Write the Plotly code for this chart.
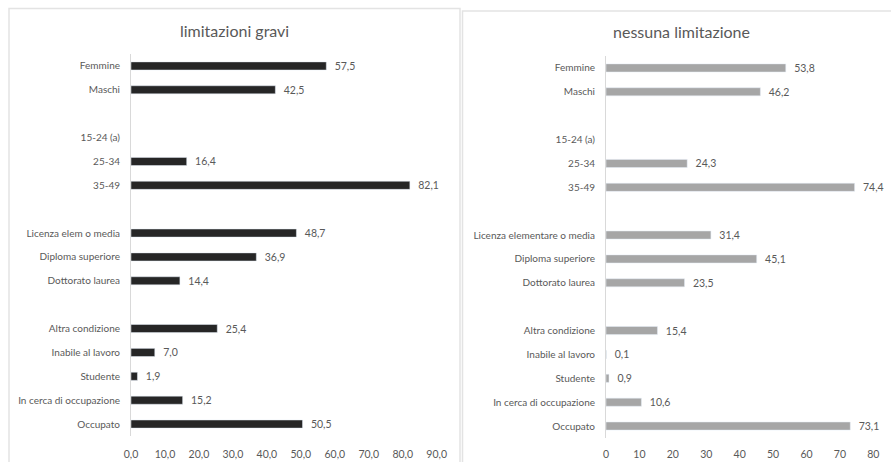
import plotly.graph_objects as go

W, H = 891, 462

categories = ["Femmine", "Maschi", " ", "15-24 (a)", "25-34", "35-49", "  ",
              "Licenza elem o media", "Diploma superiore", "Dottorato laurea", "   ",
              "Altra condizione", "Inabile al lavoro", "Studente",
              "In cerca di occupazione", "Occupato"]
categories_right = ["Femmine", "Maschi", " ", "15-24 (a)", "25-34", "35-49", "  ",
                    "Licenza elementare o media", "Diploma superiore", "Dottorato laurea", "   ",
                    "Altra condizione", "Inabile al lavoro", "Studente",
                    "In cerca di occupazione", "Occupato"]
gravi = [57.5, 42.5, None, None, 16.4, 82.1, None, 48.7, 36.9, 14.4, None,
         25.4, 7.0, 1.9, 15.2, 50.5]
nessuna = [53.8, 46.2, None, None, 24.3, 74.4, None, 31.4, 45.1, 23.5, None,
           15.4, 0.1, 0.9, 10.6, 73.1]
title_left = "limitazioni gravi"
title_right = "nessuna limitazione"

FONT = "Lato, 'Open Sans', sans-serif"
GREY_TXT = "#595959"

def px_x(p):
    return p / W

def px_y(p):
    return 1 - p / H

fig = go.Figure()
fig.add_trace(go.Bar(
    y=categories, x=gravi, orientation="h", marker=dict(color="#262626"),
    texttemplate="\u00a0\u00a0%{x:.1f}", textposition="outside", constraintext="none",
    textfont=dict(size=10.5, color=GREY_TXT, family=FONT), cliponaxis=False,
    xaxis="x", yaxis="y", showlegend=False, hoverinfo="x+y"))
fig.add_trace(go.Bar(
    y=categories_right, x=nessuna, orientation="h", marker=dict(color="#a6a6a6"),
    texttemplate="\u00a0\u00a0%{x:.1f}", textposition="outside", constraintext="none",
    textfont=dict(size=10.5, color=GREY_TXT, family=FONT), cliponaxis=False,
    xaxis="x2", yaxis="y2", showlegend=False, hoverinfo="x+y"))

axis_common = dict(showgrid=False, zeroline=False, fixedrange=True, automargin=False)

fig.update_layout(
    width=W, height=H, margin=dict(l=0, r=0, t=0, b=0, autoexpand=False),
    paper_bgcolor="white", plot_bgcolor="white",
    separators=",.", bargap=0.66,
    font=dict(family=FONT, size=10.5, color=GREY_TXT),
    xaxis=dict(domain=[px_x(131), px_x(436.7)], range=[0, 90], dtick=10,
               tickformat=".1f", showline=False, anchor="y",
               ticks="outside", ticklen=8, tickcolor="rgba(0,0,0,0)",
               tickfont=dict(size=10.5, color=GREY_TXT), **axis_common),
    yaxis=dict(domain=[px_y(436), px_y(54)], categoryorder="array",
               categoryarray=categories, autorange="reversed", type="category",
               showline=True, linecolor="#d9d9d9", linewidth=1, anchor="x",
               ticks="outside", ticklen=8, tickcolor="rgba(0,0,0,0)",
               tickfont=dict(size=10, color=GREY_TXT), **axis_common),
    xaxis2=dict(domain=[px_x(606), px_x(873.3)], range=[0, 80], dtick=10,
                tickformat="d", showline=False, anchor="y2",
                ticks="outside", ticklen=6, tickcolor="rgba(0,0,0,0)",
                tickfont=dict(size=10.5, color=GREY_TXT), **axis_common),
    yaxis2=dict(domain=[px_y(438), px_y(56)], categoryorder="array",
                categoryarray=categories_right, autorange="reversed", type="category",
                showline=True, linecolor="#d9d9d9", linewidth=1, anchor="x2",
                ticks="outside", ticklen=8, tickcolor="rgba(0,0,0,0)",
                tickfont=dict(size=10, color=GREY_TXT), **axis_common),
    annotations=[
        dict(text=title_left, x=px_x(234), y=px_y(30), xref="paper", yref="paper",
             showarrow=False, xanchor="center", yanchor="middle",
             font=dict(size=16, color=GREY_TXT, family=FONT)),
        dict(text=title_right, x=px_x(681), y=px_y(32), xref="paper", yref="paper",
             showarrow=False, xanchor="center", yanchor="middle",
             font=dict(size=16, color=GREY_TXT, family=FONT)),
    ],
    shapes=[
        dict(type="rect", xref="paper", yref="paper",
             x0=px_x(9), x1=px_x(460), y0=-0.05, y1=px_y(8.5),
             line=dict(color="#e3e3e3", width=1.5), layer="below"),
        dict(type="rect", xref="paper", yref="paper",
             x0=px_x(462.5), x1=1.05, y0=-0.05, y1=px_y(11),
             line=dict(color="#e3e3e3", width=1.5), layer="below"),
    ],
)

fig.write_html(
    "out.html",
    config={"displayModeBar": False},
    post_script="document.body.style.margin='0';document.body.style.padding='0';"
                "document.body.style.overflow='hidden';"
                "document.documentElement.style.overflow='hidden';",
)
